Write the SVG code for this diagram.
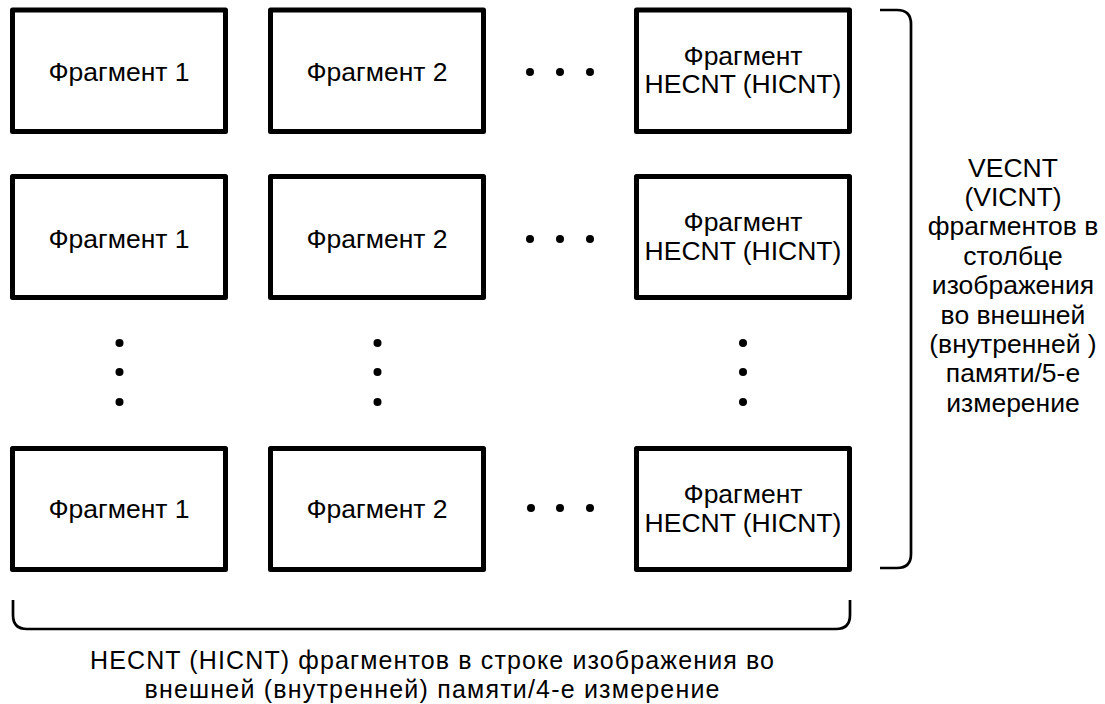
<svg xmlns="http://www.w3.org/2000/svg" width="1105" height="704" viewBox="0 0 1105 704">
<style>
.box{fill:#fff;stroke:#000;stroke-width:5;stroke-linejoin:round}
.t{font-family:"Liberation Sans",Arial,sans-serif;font-size:26.5px;fill:#000;text-anchor:middle}
.tb{font-size:25px}
.br{fill:none;stroke:#000;stroke-width:2.7}
.dot{fill:#000}
</style>
<rect width="1105" height="704" fill="#fff"/>
<g id="r1c1"><rect class="box" x="12.5" y="10" width="213" height="121.5"/><text class="t" x="119" y="81">Фрагмент 1</text></g>
<g id="r1c2"><rect class="box" x="270.5" y="10" width="213" height="121.5"/><text class="t" x="377" y="81">Фрагмент 2</text></g>
<g id="r1c3"><rect class="box" x="636.5" y="10" width="213" height="121.5"/><text class="t" x="743" y="64.5">Фрагмент</text><text class="t" x="743" y="93">HECNT (HICNT)</text></g>
<g id="r2c1"><rect class="box" x="12.5" y="176.5" width="213" height="121"/><text class="t" x="119" y="247.5">Фрагмент 1</text></g>
<g id="r2c2"><rect class="box" x="270.5" y="176.5" width="213" height="121"/><text class="t" x="377" y="247.5">Фрагмент 2</text></g>
<g id="r2c3"><rect class="box" x="636.5" y="176.5" width="213" height="121"/><text class="t" x="743" y="230.5">Фрагмент</text><text class="t" x="743" y="259.5">HECNT (HICNT)</text></g>
<g id="r3c1"><rect class="box" x="12.5" y="448.5" width="213" height="121"/><text class="t" x="119" y="517.5">Фрагмент 1</text></g>
<g id="r3c2"><rect class="box" x="270.5" y="448.5" width="213" height="121"/><text class="t" x="377" y="517.5">Фрагмент 2</text></g>
<g id="r3c3"><rect class="box" x="636.5" y="448.5" width="213" height="121"/><text class="t" x="743" y="503">Фрагмент</text><text class="t" x="743" y="532">HECNT (HICNT)</text></g>
<g id="dots">
<circle class="dot" cx="530" cy="72" r="4"/><circle class="dot" cx="560" cy="72" r="4"/><circle class="dot" cx="590" cy="72" r="4"/>
<circle class="dot" cx="530" cy="239" r="4"/><circle class="dot" cx="560" cy="239" r="4"/><circle class="dot" cx="590" cy="239" r="4"/>
<circle class="dot" cx="531" cy="508" r="4"/><circle class="dot" cx="560" cy="508" r="4"/><circle class="dot" cx="590" cy="508" r="4"/>
<circle class="dot" cx="119.5" cy="343" r="4"/><circle class="dot" cx="119.5" cy="372" r="4"/><circle class="dot" cx="119.5" cy="402" r="4"/>
<circle class="dot" cx="377.5" cy="343" r="4"/><circle class="dot" cx="377.5" cy="372" r="4"/><circle class="dot" cx="377.5" cy="402" r="4"/>
<circle class="dot" cx="743" cy="343" r="4"/><circle class="dot" cx="743" cy="372" r="4"/><circle class="dot" cx="743" cy="402" r="4"/>
</g>
<g id="connectors">
<path class="br" d="M880,10 H897 Q911,10 911,24 V554 Q911,568 897,568 H880"/>
<path class="br" d="M13,600 V615 Q13,629 27,629 H836 Q850,629 850,615 V600"/>
</g>
<g id="label-right">
<text class="t" x="1013" y="176.5">VECNT</text>
<text class="t" x="1013" y="205.9">(VICNT)</text>
<text class="t" x="1013" y="235.3">фрагментов в</text>
<text class="t" x="1013" y="264.7">столбце</text>
<text class="t" x="1013" y="294.1">изображения</text>
<text class="t" x="1013" y="323.5">во внешней</text>
<text class="t" x="1013" y="352.9">(внутренней )</text>
<text class="t" x="1013" y="382.3">памяти/5-е</text>
<text class="t" x="1013" y="411.7">измерение</text>
</g>
<g id="label-bottom">
<text class="t tb" x="432" y="669" textLength="684" lengthAdjust="spacing">HECNT (HICNT) фрагментов в строке изображения во</text>
<text class="t tb" x="432" y="698" textLength="575" lengthAdjust="spacing">внешней (внутренней) памяти/4-е измерение</text>
</g>
</svg>
